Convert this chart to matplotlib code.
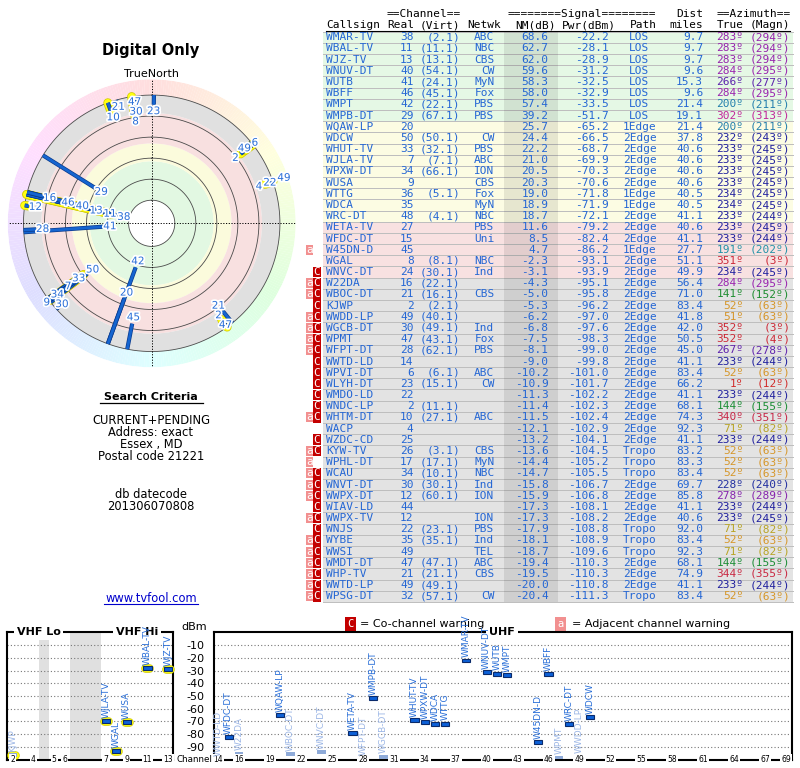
import numpy as np
import colorsys
import matplotlib
matplotlib.use("Agg")
import matplotlib.pyplot as plt
from matplotlib.patches import Rectangle
import matplotlib.patheffects as pe

# ---------------- data ----------------
callsigns = ["WMAR-TV", "WBAL-TV", "WJZ-TV", "WNUV-DT", "WUTB", "WBFF", "WMPT", "WMPB-DT",
             "WQAW-LP", "WDCW", "WHUT-TV", "WJLA-TV", "WPXW-DT", "WUSA", "WTTG", "WDCA",
             "WRC-DT", "WETA-TV", "WFDC-DT", "W45DN-D", "WGAL", "WNVC-DT", "W22DA", "WBOC-DT",
             "KJWP", "WWDD-LP", "WGCB-DT", "WPMT", "WFPT-DT", "WWTD-LD", "WPVI-DT", "WLYH-DT",
             "WMDO-LD", "WNDC-LP", "WHTM-DT", "WACP", "WZDC-CD", "KYW-TV", "WPHL-DT", "WCAU",
             "WNVT-DT", "WWPX-DT", "WIAV-LD", "WWPX-TV", "WNJS", "WYBE", "WWSI", "WMDT-DT",
             "WHP-TV", "WWTD-LP", "WPSG-DT"]
real_ch = [38, 11, 13, 40, 41, 46, 42, 29, 20, 50, 33, 7, 34, 9, 36, 35, 48, 27, 15, 45, 8, 24, 16, 21,
           2, 49, 30, 47, 28, 14, 6, 23, 22, 2, 10, 4, 25, 26, 17, 34, 30, 12, 44, 12, 22, 35, 49, 47,
           21, 49, 32]
virt_ch = ["2.1", "11.1", "13.1", "54.1", "24.1", "45.1", "22.1", "67.1", "", "50.1", "32.1", "7.1",
           "66.1", "", "5.1", "", "4.1", "", "", "", "8.1", "30.1", "22.1", "16.1", "2.1", "40.1",
           "49.1", "43.1", "62.1", "", "6.1", "15.1", "", "11.1", "27.1", "", "", "3.1", "17.1",
           "10.1", "30.1", "60.1", "", "", "23.1", "35.1", "", "47.1", "21.1", "49.1", "57.1"]
netwk = ["ABC", "NBC", "CBS", "CW", "MyN", "Fox", "PBS", "PBS", "", "CW",
         "PBS", "ABC", "ION", "CBS", "Fox", "MyN", "NBC", "PBS", "Uni", "",
         "NBC", "Ind", "", "CBS", "", "", "Ind", "Fox", "PBS", "",
         "ABC", "CW", "", "", "ABC", "", "", "CBS", "MyN", "NBC",
         "Ind", "ION", "", "ION", "PBS", "Ind", "TEL", "ABC", "CBS", "", "CW"]
nm_db = [68.6, 62.7, 62.0, 59.6, 58.3, 58.0, 57.4, 39.2, 25.7, 24.4, 22.2, 21.0, 20.5, 20.3, 19.0,
         18.9, 18.7, 11.6, 8.5, 4.7, -2.3, -3.1, -4.3, -5.0, -5.3, -6.2, -6.8, -7.5, -8.1, -9.0,
         -10.2, -10.9, -11.3, -11.4, -11.5, -12.1, -13.2, -13.6, -14.4, -14.7, -15.8, -15.9, -17.3,
         -17.3, -17.9, -18.1, -18.7, -19.4, -19.5, -20.0, -20.4]
pwr_dbm = [-22.2, -28.1, -28.9, -31.2, -32.5, -32.9, -33.5, -51.7, -65.2, -66.5, -68.7, -69.9, -70.3,
           -70.6, -71.8, -71.9, -72.1, -79.2, -82.4, -86.2, -93.1, -93.9, -95.1, -95.8, -96.2, -97.0,
           -97.6, -98.3, -99.0, -99.8, -101.0, -101.7, -102.2, -102.3, -102.4, -102.9, -104.1,
           -104.5, -105.2, -105.5, -106.7, -106.8, -108.1, -108.2, -108.8, -108.9, -109.6, -110.3,
           -110.3, -110.8, -111.3]
path = ["LOS"] * 8 + ["1Edge", "2Edge", "2Edge", "2Edge", "2Edge", "2Edge", "1Edge", "1Edge",
                      "2Edge", "2Edge", "2Edge", "1Edge"] + ["2Edge"] * 17 + \
       ["Tropo", "Tropo", "Tropo", "2Edge", "2Edge", "2Edge", "2Edge", "Tropo", "Tropo", "Tropo",
        "2Edge", "2Edge", "2Edge", "Tropo"]
dist_mi = [9.7, 9.7, 9.7, 9.6, 15.3, 9.6, 21.4, 19.1, 21.4, 37.8, 40.6, 40.6, 40.6, 40.6, 40.5, 40.5,
           41.1, 40.6, 41.1, 27.7, 51.1, 49.9, 56.4, 71.0, 83.4, 41.8, 42.0, 50.5, 45.0, 41.1, 83.4,
           66.2, 41.1, 68.1, 74.3, 92.3, 41.1, 83.2, 83.3, 83.4, 69.7, 85.8, 41.1, 40.6, 92.0, 83.4,
           92.3, 68.1, 74.9, 41.1, 83.4]
az_true = [283, 283, 283, 284, 266, 284, 200, 302, 200, 232, 233, 233, 233, 233, 234, 234, 233, 233,
           233, 191, 351, 234, 284, 141, 52, 51, 352, 352, 267, 233, 52, 1, 233, 144, 340, 71, 233,
           52, 52, 52, 228, 278, 233, 233, 71, 52, 71, 144, 344, 233, 52]
az_magn = [294, 294, 294, 295, 277, 295, 211, 313, 211, 243, 245, 245, 245, 245, 245, 245, 244, 245,
           244, 202, 3, 245, 295, 152, 63, 63, 3, 4, 278, 244, 63, 12, 244, 155, 351, 82, 244, 63,
           63, 63, 240, 289, 244, 245, 82, 63, 82, 155, 355, 244, 63]
warn = [""] * 19 + ["a", "", "C", "aC", "aC", "C", "aC", "aC", "aC", "aC", "C", "C", "C", "C", "C",
                    "aC", "", "C", "aC", "a", "aC", "aC", "aC", "C", "aC", "C", "aC", "aC", "aC",
                    "aC", "aC", "aC"]

search_lines = ["CURRENT+PENDING", "Address: exact", "Essex , MD", "Postal code 21221"]
datecode_lines = ["db datecode", "201306070808"]
vhf_ticks = [2, 4, 5, 6, 7, 9, 11, 13]
uhf_ticks = [14, 16, 19, 22, 25, 28, 31, 34, 37, 40, 43, 46, 49, 52, 55, 58, 61, 64, 67, 69]
dbm_ticks = [-10, -20, -30, -40, -50, -60, -70, -80, -90]
# VHF channel -> compressed frequency slot scale
vhf_ch_pts = [2, 3, 4, 5, 6, 7, 8, 9, 10, 11, 12, 13]
vhf_slot_pts = [0, 1, 2, 4, 5, 9, 10, 11, 12, 13, 14, 15]

# ---------------- figure ----------------
W, H = 800, 768
fig = plt.figure(figsize=(8, 7.68), dpi=100)


def fbox(x0, y0, w, h):
    return [x0 / W, 1 - (y0 + h) / H, w / W, h / H]


ov = fig.add_axes([0, 0, 1, 1])
ov.set_xlim(0, W)
ov.set_ylim(H, 0)
ov.axis("off")

BLUE = "#2466d4"
MONO = "DejaVu Sans Mono"

AZ_PTS = [0, 52, 71, 141, 200, 233, 266, 283, 302, 340, 360]
HUE_PTS = [0, 38, 52, 130, 200, 240, 265, 290, 315, 348, 360]
VAL_PTS = [0.82, 0.84, 0.72, 0.55, 0.68, 0.62, 0.68, 0.68, 0.76, 0.78, 0.82]


def az_color(a):
    h = np.interp(a, AZ_PTS, HUE_PTS) / 360.0
    v = np.interp(a, AZ_PTS, VAL_PTS)
    return colorsys.hsv_to_rgb(h, 0.8, v)


# ---------------- left texts ----------------
ov.text(151, 51, "Digital Only", ha="center", va="center", fontsize=10.5, fontweight="bold")
ov.text(151, 74, "TrueNorth", ha="center", va="center", fontsize=8)
ov.text(151, 397.5, "Search Criteria", ha="center", va="center", fontsize=8, fontweight="bold")
ov.plot([99.5, 203], [403, 403], color="k", lw=0.9)
for k, s in enumerate(search_lines):
    ov.text(151, 420 + k * 12.2, s, ha="center", va="center", fontsize=8.3)
for k, s in enumerate(datecode_lines):
    ov.text(151, 494.3 + k * 11.8, s, ha="center", va="center", fontsize=8.3)
ov.text(151, 598, "www.tvfool.com", ha="center", va="center", fontsize=8.3, color="#0000cc")
ov.plot([104, 198], [604, 604], color="#0000cc", lw=0.8)

# ---------------- table ----------------
ROW0, ROWH = 37.3, 11.18
TX0, TX1 = 323, 793
n = len(callsigns)


def band_color(v):
    if v >= 30:
        return "#e5f8e5"
    if v >= 15:
        return "#fcfce3"
    if v >= -4:
        return "#f8e1e1"
    return "#e3e3e3"


ov.plot([TX0, TX1], [ROW0 - ROWH / 2] * 2, color="#c0c0c0", lw=0.7)
for i in range(n):
    y = ROW0 + i * ROWH
    ov.add_patch(Rectangle((TX0, y - ROWH / 2), TX1 - TX0, ROWH, fc=band_color(nm_db[i]), ec="none",
                           zorder=1))
    ov.plot([TX0, TX1], [y + ROWH / 2] * 2, color="#bdbdbd", lw=0.7, zorder=2)
ov.add_patch(Rectangle((504, ROW0 - ROWH / 2), 54, n * ROWH, fc="k", alpha=0.085, ec="none", zorder=2))

FS = 8
hdr1 = [(424, "==Channel==", "center"), (582, "========Signal========", "center"),
        (703, "Dist", "right"), (753.5, "==Azimuth==", "center")]
for x, s, a in hdr1:
    ov.text(x, 14, s, ha=a, va="center", fontsize=FS, family=MONO)
hdr2 = [(326.5, "Callsign"), (387, "Real"), (419.5, "(Virt)"), (467, "Netwk"), (515, "NM(dB)"),
        (562, "Pwr(dBm)"), (630, "Path"), (669, "miles"), (717, "True"), (750, "(Magn)")]
for x, s in hdr2:
    ov.text(x, 25.5, s, ha="left", va="center", fontsize=FS, family=MONO)
ov.plot([326, 790], [31, 31], color="k", lw=0.8)

for i in range(n):
    y = ROW0 + i * ROWH
    kw = dict(va="center", fontsize=FS, family=MONO, zorder=3)
    ov.text(326.5, y, callsigns[i], ha="left", color=BLUE, **kw)
    ov.text(413.5, y, str(real_ch[i]), ha="right", color=BLUE, **kw)
    if virt_ch[i]:
        ov.text(460.5, y, "(" + virt_ch[i] + ")", ha="right", color=BLUE, **kw)
    if netwk[i]:
        ov.text(494.5, y, netwk[i], ha="right", color=BLUE, **kw)
    ov.text(548.5, y, f"{nm_db[i]:.1f}", ha="right", color=BLUE, **kw)
    ov.text(608.5, y, f"{pwr_dbm[i]:.1f}", ha="right", color=BLUE, **kw)
    ov.text(639.5, y, path[i], ha="center", color=BLUE, **kw)
    ov.text(703, y, f"{dist_mi[i]:.1f}", ha="right", color=BLUE, **kw)
    c = az_color(az_true[i])
    ov.text(743.5, y, f"{az_true[i]}\u00ba", ha="right", color=c, **kw)
    ov.text(790.5, y, f"({az_magn[i]}\u00ba)", ha="right", color=c, **kw)
    if "C" in warn[i]:
        ov.add_patch(Rectangle((313.3, y - 5.4), 7.2, 10.8, fc="#c30000", ec="none", zorder=2))
        ov.text(316.9, y, "C", ha="center", color="white", **kw)
    if "a" in warn[i]:
        ov.add_patch(Rectangle((306.2, y - 5.0), 7.1, 10.0, fc="#f29090", ec="none", zorder=2))
        ov.text(309.8, y, "a", ha="center", color="white", **kw)

# ---------------- polar plot ----------------
R0 = 102.0      # radius = R0 - NM(dB)
NM_MIN = -20.0
R_EDGE = R0 - NM_MIN
R_RING = 137.0
PXU = 144.0 / R_RING

pax = fig.add_axes(fbox(7.7, 79.3, 288, 288), projection="polar")
pax.set_theta_zero_location("N")
pax.set_theta_direction(-1)
pax.set_axis_off()

ring_az = np.arange(360) + 0.5
ring_cols = [colorsys.hsv_to_rgb(a / 360.0, 0.13, 1.0) for a in ring_az]
pax.bar(np.radians(ring_az), R_RING - R_EDGE, width=np.radians(1.05), bottom=R_EDGE,
        color=ring_cols, lw=0, zorder=0)

band_nm = [80, 43, 26, -3, NM_MIN]
band_cols = ["#e2f8e2", "#fbfbdc", "#f8e0e0", "#e0e0e0"]
pax.bar(0, R0 - band_nm[0], width=2 * np.pi, bottom=0, color="white", lw=0, zorder=0)
for k in range(4):
    r_in = R0 - band_nm[k]
    r_out = R0 - band_nm[k + 1]
    pax.bar(0, r_out - r_in, width=2 * np.pi, bottom=r_in, color=band_cols[k], lw=0, zorder=0)

tt = np.linspace(0, 2 * np.pi, 500)
for lev in [80, 60, 40, 20, 0, -20]:
    pax.plot(tt, np.full_like(tt, R0 - lev), color="#4a4a4a", lw=0.6, zorder=1)
for a in [0, 90, 180, 270]:
    pax.plot([np.radians(a)] * 2, [0, R_RING], color="k", lw=0.7, ls=(0, (1.2, 1.6)), zorder=1)

for i in range(n):
    if real_ch[i] <= 13:
        th = np.radians(az_true[i])
        r1 = R0 - max(nm_db[i], NM_MIN)
        pax.plot([th, th], [r1, R_EDGE], color="#ffff10", lw=5.5, solid_capstyle="round", zorder=2,
                 path_effects=[pe.Stroke(linewidth=6.5, foreground="#d0c800"), pe.Normal()])
for i in range(n):
    th = np.radians(az_true[i])
    r1 = R0 - max(nm_db[i], NM_MIN)
    pax.plot([th, th], [r1, R_EDGE], color="#1565d0", lw=2.0, solid_capstyle="butt", zorder=3,
             path_effects=[pe.Stroke(linewidth=3.0, foreground="#0b3a8c"), pe.Normal()])

# channel labels, pushed outward to avoid overlaps
placed = []
order = np.argsort(-np.array(nm_db), kind="stable")
for i in order:
    th = np.radians(az_true[i])
    lab = str(real_ch[i])
    hw = 3.3 * len(lab) + 0.3
    rp = (R0 - max(nm_db[i], NM_MIN)) * PXU - 6.5
    ok = False
    while rp <= 141:
        x, y = rp * np.sin(th), rp * np.cos(th)
        if all(abs(x - px) >= hw + pw or abs(y - py) >= 9.5 for px, py, pw in placed):
            ok = True
            break
        rp += 0.5
    if not ok:
        continue
    placed.append((x, y, hw))
    pax.text(th, rp / PXU, lab, ha="center", va="center", fontsize=7.5, color="#2a6fd8", zorder=5,
             path_effects=[pe.withStroke(linewidth=2.5, foreground="white")])
pax.set_ylim(0, R_RING)

# ---------------- spectrum ----------------
Y0, YH = 632.3, 127.4
axv = fig.add_axes(fbox(7, Y0, 166.3, YH))
axu = fig.add_axes(fbox(214, Y0, 578, YH))
axv.set_xlim(-0.55, 15.5)
axu.set_xlim(13.58, 69.59)
for ax in (axv, axu):
    ax.set_ylim(-100, 0)
    ax.set_xticks([])
    ax.set_yticks(dbm_ticks)
    ax.yaxis.grid(True, color="#777777", lw=0.8, ls=(0, (1, 2)))
    ax.set_axisbelow(True)
    for sp in ax.spines.values():
        sp.set_linewidth(1.5)
axv.tick_params(axis="y", length=0, labelleft=False)
axu.set_yticklabels([f"-{abs(v)}" for v in dbm_ticks])
axu.tick_params(axis="y", length=0, pad=7, labelsize=8)
axv.axvspan(2.5, 3.5, color="#e0e0e0", lw=0, zorder=0.5)
axv.axvspan(5.5, 8.5, color="#e0e0e0", lw=0, zorder=0.5)

tbox = dict(boxstyle="square,pad=0.15", fc="white", ec="none")
for c in vhf_ticks:
    axv.text(np.interp(c, vhf_ch_pts, vhf_slot_pts), -100, str(c), ha="center", va="center",
             fontsize=5.5, bbox=tbox, clip_on=False, zorder=6)
for c in uhf_ticks:
    axu.text(c, -100, str(c), ha="center", va="center", fontsize=5.5, bbox=tbox, clip_on=False,
             zorder=6)
hbox = dict(boxstyle="square,pad=0.25", fc="white", ec="none")
axv.text(2.5, 0, "VHF Lo", ha="center", va="center", fontsize=8, fontweight="bold", bbox=hbox,
         clip_on=False, zorder=6)
axv.text(12, 0, "VHF Hi", ha="center", va="center", fontsize=8, fontweight="bold", bbox=hbox,
         clip_on=False, zorder=6)
axu.text(41.5, 0, "UHF", ha="center", va="center", fontsize=8, fontweight="bold", bbox=hbox,
         clip_on=False, zorder=6)

for i in range(n):
    if pwr_dbm[i] <= -100:
        continue
    ch = real_ch[i]
    if ch <= 13:
        ax = axv
        x = np.interp(ch, vhf_ch_pts, vhf_slot_pts)
        ax.plot([x - 0.2, x + 0.2], [pwr_dbm[i]] * 2, color="#ffff10", lw=5.2, solid_capstyle="round",
                zorder=3, clip_on=False,
                path_effects=[pe.Stroke(linewidth=6.2, foreground="#d0c800"), pe.Normal()])
    else:
        ax = axu
        x = ch
    faded = "C" in warn[i]
    if faded:
        ax.bar(x, 3.0, bottom=pwr_dbm[i] - 1.5, width=0.8, color="#8eaad8", lw=0, zorder=4,
               clip_on=False)
    else:
        ax.bar(x, 3.0, bottom=pwr_dbm[i] - 1.5, width=0.8, color="#0d60d8", edgecolor="#0a2a6a",
               lw=0.8, zorder=4, clip_on=False)
    ax.text(x, pwr_dbm[i] + 2.6, callsigns[i], rotation=90, ha="center", va="bottom", fontsize=6.5,
            color="#9db7e6" if faded else "#2a6fd8", clip_on=False, zorder=7)

ov.text(194, 627, "dBm", ha="center", va="center", fontsize=8)
ov.text(194, 759.5, "Channel", ha="center", va="center", fontsize=6.3)
ov.text(350.3, 624, "C", ha="center", va="center", fontsize=7.5, color="white", family=MONO,
        bbox=dict(boxstyle="square,pad=0.2", fc="#c30000", ec="none"))
ov.text(360, 624, "= Co-channel warning", ha="left", va="center", fontsize=8)
ov.text(560.3, 624, "a", ha="center", va="center", fontsize=7.5, color="white", family=MONO,
        bbox=dict(boxstyle="square,pad=0.2", fc="#f29090", ec="none"))
ov.text(571.5, 624, "= Adjacent channel warning", ha="left", va="center", fontsize=8)

fig.savefig("out.png", dpi=100)
